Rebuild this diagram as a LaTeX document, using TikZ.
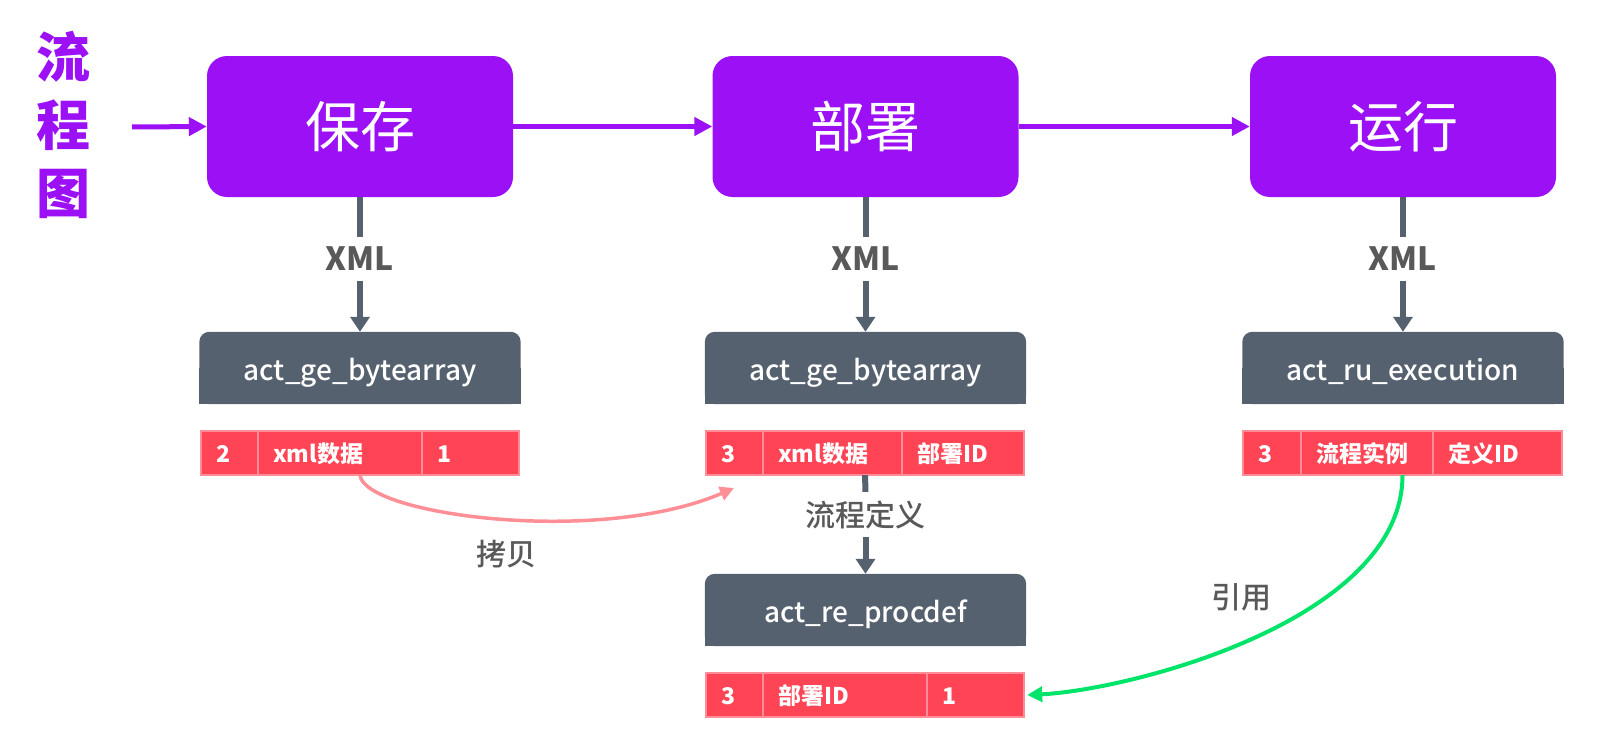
\documentclass[tikz,border=0pt]{standalone}
\usepackage{fontspec}
\setmainfont{Noto Sans CJK SC}
\newfontfamily\mediumfont{Noto Sans CJK SC Medium}
\usetikzlibrary{positioning,arrows.meta,fit,backgrounds}
\definecolor{flowpurple}{RGB}{155,16,245}
\definecolor{headgray}{RGB}{86,97,111}
\definecolor{cellred}{RGB}{255,68,85}
\definecolor{cellline}{RGB}{255,140,150}
\definecolor{copypink}{RGB}{255,143,150}
\definecolor{refgreen}{RGB}{0,228,106}
\definecolor{labelgray}{RGB}{89,89,89}
\tikzset{
  titletext/.style={text=flowpurple, font=\bfseries\fontsize{54}{68}\selectfont, align=center},
  stepbox/.style={fill=flowpurple, rounded corners=20pt, minimum width=306pt, minimum height=141pt, text=white, font=\fontsize{55}{60}\selectfont},
  headbox/.style={minimum width=321pt, minimum height=72pt, inner sep=0pt, text=white, text height=24pt, text depth=0pt, font=\mediumfont\fontsize{28}{30}\selectfont},
  cellbox/.style={draw=cellline, line width=2pt, fill=cellred, text=white, font=\bfseries\fontsize{23}{25}\selectfont, minimum height=44pt, inner xsep=15pt, inner ysep=0pt, text height=18pt, text depth=0pt, align=left, outer sep=0pt, text width=#1},
  xmllabel/.style={text=labelgray, font=\bfseries\fontsize{32}{35}\selectfont, inner sep=0pt, minimum height=44pt},
  steplabel/.style={text=labelgray, font=\mediumfont\fontsize{30}{32}\selectfont, inner sep=0pt, minimum height=45pt},
  relabel/.style={text=labelgray, font=\mediumfont\fontsize{30}{32}\selectfont},
  flowarrow/.style={-{Triangle[length=18pt,width=18pt]}, line width=5pt, flowpurple},
  stemline/.style={line width=6pt, headgray},
  stemarrow/.style={stemline, -{Triangle[length=15pt,width=19pt]}},
  copyarrow/.style={-{Triangle[length=14pt,width=14pt]}, line width=3.5pt, copypink},
  refarrow/.style={-{Triangle[length=15pt,width=15pt]}, line width=4pt, refgreen}
}

\begin{document}
\begin{tikzpicture}[x=1pt, y=-1pt]
  \useasboundingbox (0,0) rectangle (1604,736);
  \node[titletext] (title) at (63,125) {流\\程\\图};
  \coordinate (entry) at (132,127);

  \node[stepbox] (save) at (360,126.5) {保存};
  \node[stepbox] (deploy) at (865.5,126.5) {部署};
  \node[stepbox] (run) at (1403,126.5) {运行};
  \draw[flowarrow] (entry) -- (save.west);
  \draw[flowarrow] (save) -- (deploy);
  \draw[flowarrow] (deploy) -- (run);

  \node[xmllabel] (x1) at (360,259) {XML};
  \node[xmllabel] (x2) at (865.5,259) {XML};
  \node[xmllabel] (x3) at (1403,259) {XML};

  \node[headbox] (h1) at (360,368) {act\_ge\_bytearray};
  \node[headbox] (h2) at (865.5,368) {act\_ge\_bytearray};
  \node[headbox] (h3) at (1403,368) {act\_ru\_execution};
  \node[headbox] (h4) at (865.5,610) {act\_re\_procdef};

  \node[cellbox=27pt, anchor=west] (t1a) at (201,453) {2};
  \node[cellbox=134pt, right=0pt of t1a] (t1b) {xml数据};
  \node[cellbox=67pt, right=0pt of t1b] (t1c) {1};
  \node[cellbox=27pt, anchor=west] (t2a) at (706,453) {3};
  \node[cellbox=109pt, right=0pt of t2a] (t2b) {xml数据};
  \node[cellbox=92pt, right=0pt of t2b] (t2c) {部署ID};
  \node[cellbox=28pt, anchor=west] (t3a) at (1243,453) {3};
  \node[cellbox=102pt, right=0pt of t3a] (t3b) {流程实例};
  \node[cellbox=99pt, right=0pt of t3b] (t3c) {定义ID};
  \node[cellbox=27pt, anchor=west] (t4a) at (706,695) {3};
  \node[cellbox=134pt, right=0pt of t4a] (t4b) {部署ID};
  \node[cellbox=67pt, right=0pt of t4b] (t4c) {1};
  \node[fit=(t1a)(t1c), inner sep=0pt] (tab1) {};
  \node[fit=(t2a)(t2c), inner sep=0pt] (tab2) {};
  \node[fit=(t3a)(t3c), inner sep=0pt] (tab3) {};
  \node[fit=(t4a)(t4c), inner sep=0pt] (tab4) {};

  \draw[stemline] (save) -- (x1);
  \draw[stemline] (deploy) -- (x2);
  \draw[stemline] (run) -- (x3);
  \draw[stemarrow] (x1) -- (h1);
  \draw[stemarrow] (x2) -- (h2);
  \draw[stemarrow] (x3) -- (h3);

  \node[steplabel] (def) at (865.5,514.5) {流程定义};
  \draw[stemline] (tab2) -- (def);
  \draw[stemarrow] (def) -- (h4);

  \coordinate (copyend) at (734,488);
  \draw[copyarrow] (tab1.south) .. controls +(5,40) and +(-134,58) .. (copyend);
  \node[relabel] (copy) at (506,554) {拷贝};
  \draw[refarrow] (tab3.south) .. controls +(0,145) and +(103,-5) .. ([xshift=3pt]tab4.east);
  \node[relabel] (ref) at (1241,597) {引用};

  \begin{scope}[on background layer]
    \foreach \h in {h1,h2,h3,h4} {
      \fill[headgray, rounded corners=10pt] (\h.south west) rectangle (\h.north east);
      \fill[headgray] (\h.south west) rectangle (\h.east);
    }
  \end{scope}
\end{tikzpicture}
\end{document}
